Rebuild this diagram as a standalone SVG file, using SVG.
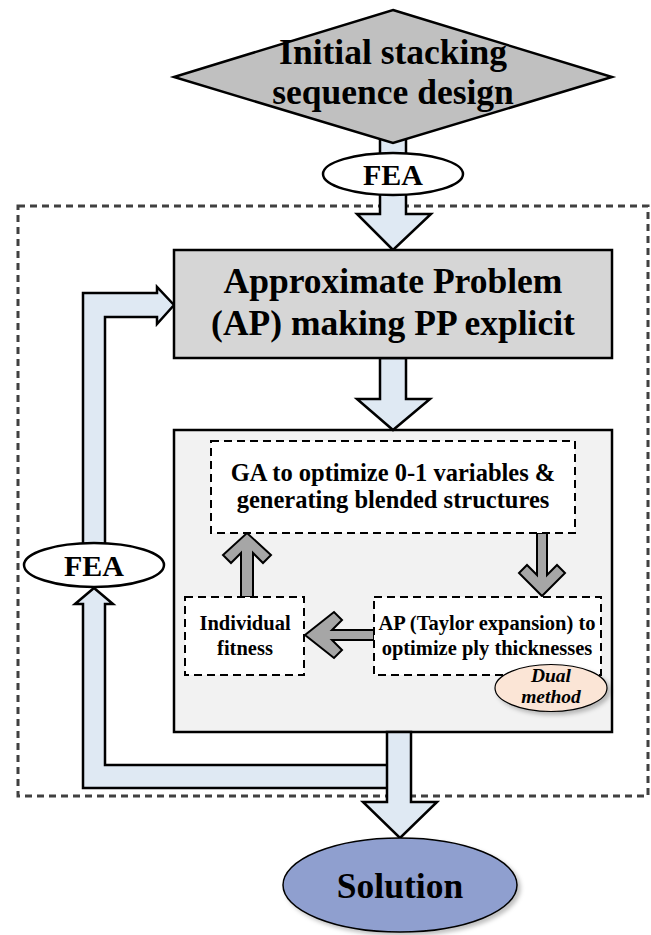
<svg xmlns="http://www.w3.org/2000/svg" width="651" height="935" viewBox="0 0 651 935">
<style>
  text { font-family: "Liberation Serif", "Times New Roman", serif; font-weight: bold; fill: #000; text-anchor: middle; }
  .big { font-size: 35.5px; }
  .mid { font-size: 30px; }
  .sm { font-size: 24.5px; }
  .xs { font-size: 20.5px; }
  .it { font-size: 19.5px; font-style: italic; }
  .blue { fill: #dfe9f3; stroke: #000; stroke-width: 2.5; stroke-linejoin: miter; }
  .gray { fill: #a6a6a6; stroke: #000; stroke-width: 2; stroke-linejoin: miter; }
  .box { stroke: #000; stroke-width: 2.5; }
  .dash { fill: #fff; stroke: #000; stroke-width: 2; stroke-dasharray: 8 5; }
  .outer { fill: none; stroke: #404040; stroke-width: 3; stroke-dasharray: 7 5; }
</style>
<defs>
  <filter id="sh" x="-20%" y="-20%" width="150%" height="150%">
    <feDropShadow dx="3" dy="3" stdDeviation="2" flood-color="#000" flood-opacity="0.25"/>
  </filter>
</defs>
<rect width="651" height="935" fill="#fff"/>

<g id="outer-frame">
  <rect class="outer" x="18" y="206" width="630" height="590"/>
</g>

<g id="inner-box">
  <rect class="box" x="174" y="430" width="438" height="302" fill="#f2f2f2"/>
</g>

<g id="connectors">
  <rect class="blue" x="380" y="135" width="26" height="22"/>
  <polygon class="blue" points="380,188 380,214 357,214 393,250 431,214 406,214 406,188"/>
  <polygon class="blue" points="380,358 380,399 357,399 393,430 430,399 406,399 406,358"/>
  <polygon class="blue" points="390,765 105,765 105,604 113,604 94,588 75,604 83,604 83,788 390,788"/>
  <polygon class="blue" points="105,552 105,317 157,317 157,324 174,305 157,287 157,293 83,293 83,552"/>
  <polygon class="blue" points="387,732 387,802 363,802 400,838 437,802 411,802 411,732"/>
  <polygon class="gray" points="241,597 241,553 231,563 223,555 247,533 271,555 263,563 253,553 253,597"/>
  <polygon class="gray" points="537,533 537,575 527,565 519,573 542,596 565,573 557,565 547,575 547,533"/>
  <polygon class="gray" points="374,630 332,630 342,620 334,612 305,635 334,658 342,650 332,640 374,640"/>
</g>

<g id="initial-design">
  <polygon points="393,10 612,77 393,143 174,77" fill="#c0c0c0" stroke="#000" stroke-width="2.5"/>
  <text class="big" x="393" y="64">Initial stacking</text>
  <text class="big" x="393" y="104">sequence design</text>
</g>

<g id="fea-top">
  <ellipse cx="393" cy="174" rx="70" ry="21" fill="#fff" stroke="#000" stroke-width="2.5"/>
  <text class="mid" x="393" y="185">FEA</text>
</g>

<g id="approximate-problem">
  <rect class="box" x="174" y="250" width="438" height="108" fill="#d6d6d6"/>
  <text class="big" x="393" y="293">Approximate Problem</text>
  <text class="big" x="393" y="335">(AP) making PP explicit</text>
</g>

<g id="ga-box">
  <rect class="dash" x="211" y="441" width="364" height="92"/>
  <text class="sm" x="393" y="481">GA to optimize 0-1 variables &amp;</text>
  <text class="sm" x="393" y="508">generating blended structures</text>
</g>

<g id="individual-fitness">
  <rect class="dash" x="185" y="597" width="119" height="78"/>
  <text class="xs" x="245" y="630">Individual</text>
  <text class="xs" x="245" y="655">fitness</text>
</g>

<g id="ap-taylor">
  <rect class="dash" x="374" y="597" width="227" height="78"/>
  <text class="xs" x="487" y="630">AP (Taylor expansion) to</text>
  <text class="xs" x="487" y="655">optimize ply thicknesses</text>
</g>

<g id="dual-method">
  <ellipse cx="551" cy="688" rx="56" ry="23.5" fill="#fbe5d6" stroke="#000" stroke-width="1.2" filter="url(#sh)"/>
  <text class="it" x="551" y="682">Dual</text>
  <text class="it" x="551" y="703">method</text>
</g>

<g id="fea-left">
  <ellipse cx="94" cy="565" rx="70" ry="22" fill="#fff" stroke="#000" stroke-width="2.5"/>
  <text class="mid" x="94" y="576">FEA</text>
</g>

<g id="solution">
  <ellipse cx="400" cy="885" rx="117" ry="47" fill="#8f9fcf" stroke="#000" stroke-width="1.5" filter="url(#sh)"/>
  <text class="big" x="400" y="898">Solution</text>
</g>
</svg>
